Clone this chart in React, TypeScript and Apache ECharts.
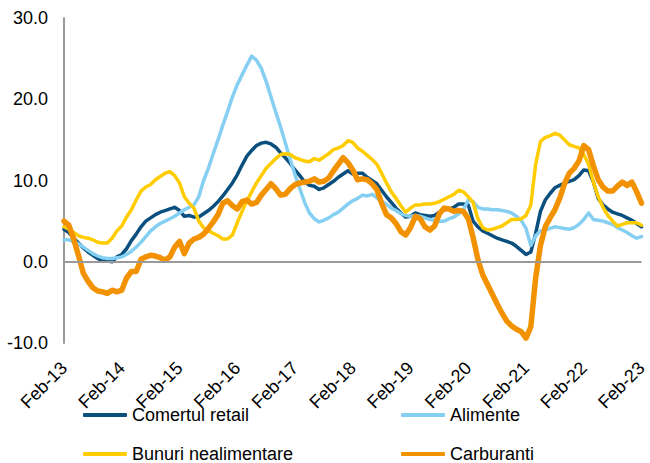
import React, { useEffect, useRef } from "react";
import * as echarts from "echarts";

const MONTHS = ["Jan", "Feb", "Mar", "Apr", "May", "Jun", "Jul", "Aug", "Sep", "Oct", "Nov", "Dec"];
// Monthly categories Feb-13 .. Feb-23
const categories: string[] = [];
for (let y = 13; y <= 23; y++) {
  for (let m = 0; m < 12; m++) {
    if (y === 13 && m < 1) continue;
    if (y === 23 && m > 1) continue;
    categories.push(`${MONTHS[m]}-${y}`);
  }
}

const yTicks = [-10, 0, 10, 20, 30];

const comertulRetail = [
  4.0, 3.6, 2.9, 2.3, 1.7, 1.2, 0.8, 0.4, 0.1, 0.1, 0.0, 0.6,
  0.9, 1.6, 2.6, 3.4, 4.3, 5.0, 5.4, 5.8, 6.1, 6.3, 6.5, 6.7,
  6.3, 5.6, 5.7, 5.5, 5.5, 5.9, 6.3, 6.8, 7.4, 8.1, 8.9, 9.7,
  10.7, 11.9, 13.0, 13.7, 14.3, 14.6, 14.7, 14.5, 14.1, 13.4, 12.8, 12.1,
  11.3, 10.6, 9.8, 9.4, 9.3, 8.9, 9.1, 9.5, 9.9, 10.4, 10.8, 11.2,
  10.8, 10.9, 10.9, 10.4, 10.0, 9.6, 8.8, 8.0, 7.3, 6.6, 6.0, 5.5,
  5.6, 6.0, 5.8, 5.7, 5.6, 5.7, 6.1, 6.4, 6.5, 6.7, 7.1, 7.1,
  7.0, 5.0, 4.3, 3.8, 3.5, 3.2, 2.9, 2.7, 2.5, 2.3, 1.9, 1.4,
  0.9, 1.2, 3.5, 6.2, 7.6, 8.4, 9.1, 9.4, 9.7, 9.9, 10.1, 10.6,
  11.3, 11.2, 9.8, 7.8, 7.0, 6.5, 6.1, 5.9, 5.7, 5.4, 5.1, 4.7,
  4.3,
];

const alimente = [
  2.7, 2.7, 2.5, 2.2, 1.8, 1.4, 1.0, 0.7, 0.5, 0.4, 0.4, 0.5,
  0.6, 0.9, 1.3, 1.8, 2.4, 3.1, 3.8, 4.3, 4.7, 5.0, 5.3, 5.6,
  6.0, 6.4, 6.7, 7.0, 8.0, 10.0, 11.5, 13.3, 15.0, 16.8, 18.5, 20.3,
  21.8, 23.0, 24.2, 25.3, 24.8, 23.8, 22.2, 20.3, 18.4, 16.6, 14.6, 12.6,
  10.7, 9.0, 7.3, 6.0, 5.3, 4.9, 5.1, 5.4, 5.8, 6.1, 6.6, 7.1,
  7.5, 7.8, 8.2, 8.1, 8.3, 7.9, 7.4, 7.1, 6.6, 6.3, 5.9, 5.7,
  5.6, 5.7, 5.6, 5.4, 5.2, 5.1, 5.0, 5.0, 5.3, 5.5, 5.9, 6.4,
  7.6, 7.4, 6.7, 6.5, 6.5, 6.4, 6.4, 6.3, 6.2, 6.0, 5.6, 5.1,
  4.1, 2.0, 3.2, 3.8, 3.9, 4.1, 4.3, 4.2, 4.1, 4.0, 4.2, 4.6,
  5.2, 6.0, 5.2, 5.1, 5.0, 4.8, 4.6, 4.2, 3.9, 3.6, 3.2, 2.9,
  3.1,
];

const bunuriNealimentare = [
  4.3, 4.0, 3.6, 3.2, 3.0, 2.9, 2.7, 2.4, 2.3, 2.3, 2.9, 3.8,
  4.4, 5.5, 6.4, 7.6, 8.7, 9.2, 9.5, 10.1, 10.5, 10.9, 11.1, 10.6,
  9.7, 8.0, 7.2, 6.6, 5.0, 4.2, 3.8, 3.5, 3.2, 2.8, 2.8, 3.3,
  4.8, 6.2, 7.5, 8.6, 9.7, 10.6, 11.5, 12.1, 12.7, 13.2, 13.3, 13.2,
  12.8, 12.6, 12.4, 12.3, 12.7, 12.5, 12.9, 13.3, 13.8, 14.0, 14.3, 14.9,
  14.7, 14.0, 13.6, 13.1, 12.6, 12.0, 10.9, 9.7, 8.6, 7.8, 6.9, 6.1,
  6.6, 7.0, 7.0, 7.1, 7.1, 7.2, 7.4, 7.7, 8.0, 8.3, 8.8, 8.6,
  8.0, 7.3, 5.3, 4.2, 3.9, 4.0, 4.2, 4.4, 4.8, 5.2, 5.2, 5.3,
  5.7, 7.0, 12.0, 14.8, 15.3, 15.5, 15.8, 15.6, 15.0, 14.4, 14.2, 14.0,
  13.2, 12.0, 9.8, 8.0, 6.7, 5.7, 5.0, 4.4, 4.6, 4.8, 4.8, 4.8,
  4.5,
];

const carburanti = [
  5.0, 4.5, 2.8, 0.8, -1.4, -2.4, -3.2, -3.6, -3.7, -3.9, -3.5, -3.7,
  -3.5, -2.0, -1.2, -1.2, 0.3, 0.6, 0.8, 0.7, 0.5, 0.2, 0.6, 1.8,
  2.5, 1.0, 2.3, 2.8, 3.0, 3.4, 4.1, 4.9, 5.8, 7.2, 7.5, 6.9,
  6.5, 7.4, 7.6, 7.1, 7.3, 8.2, 8.9, 9.6, 9.0, 8.2, 8.3, 9.0,
  9.5, 9.7, 9.8, 9.9, 10.2, 9.8, 9.9, 10.3, 11.2, 12.0, 12.8, 12.2,
  11.3, 10.1, 10.2, 10.1, 9.6, 8.9, 7.2, 5.8, 5.4, 4.7, 3.7, 3.3,
  4.2, 5.6, 5.3, 4.3, 3.9, 4.4, 5.9, 6.6, 6.5, 6.2, 6.3, 6.2,
  5.3, 3.0, 0.3, -1.6, -2.8, -4.0, -5.2, -6.3, -7.3, -7.9, -8.3, -8.6,
  -9.4, -8.0, -2.0, 2.0, 4.3, 5.4, 6.4, 7.8, 9.6, 10.9, 11.5, 12.4,
  14.3, 13.8, 11.8, 10.1, 9.2, 8.7, 8.7, 9.3, 9.8, 9.4, 9.8, 8.6,
  7.2,
];

const COLORS = {
  retail: "#0A4F7D",
  alimente: "#85CFF2",
  bunuri: "#FFCC00",
  carburanti: "#F39200",
};

const FONT = "'Liberation Sans', Arial, sans-serif";

const legendItem = (name: string, left: number, top: number) => ({
  data: [name],
  orient: "horizontal",
  left,
  top,
  itemWidth: 44,
  itemHeight: 4,
  itemGap: 0,
  padding: 0,
  icon: "roundRect",
  textStyle: { fontSize: 18, color: "#000", fontFamily: FONT },
});

export default function App() {
  const ref = useRef<HTMLDivElement>(null);

  useEffect(() => {
    if (!ref.current) return;
    const chart = echarts.init(ref.current, undefined, { renderer: "svg" });
    const mkSeries = (name: string, data: number[], color: string, width: number, extra: any = {}) => ({
      name,
      type: "line",
      data,
      symbol: "none",
      smooth: false,
      lineStyle: { color, width, cap: "round", join: "round" },
      itemStyle: { color },
      ...extra,
    });
    chart.setOption({
      animation: false,
      textStyle: { fontFamily: FONT },
      grid: { left: 64, right: 2, top: 18, bottom: 120, containLabel: false },
      xAxis: {
        type: "category",
        data: categories,
        boundaryGap: false,
        axisLine: { show: false, onZero: false },
        axisTick: { show: false },
        splitLine: { show: false },
        axisLabel: {
          interval: 11,
          rotate: 45,
          margin: 22,
          fontSize: 18,
          color: "#000",
          fontFamily: FONT,
        },
      },
      yAxis: {
        type: "value",
        min: yTicks[0],
        max: yTicks[yTicks.length - 1],
        interval: 10,
        axisLine: { show: true, lineStyle: { color: "#9A9A9A", width: 2 } },
        axisTick: { show: false },
        splitLine: { show: false },
        axisLabel: {
          margin: 16,
          fontSize: 18,
          color: "#000",
          fontFamily: FONT,
          formatter: (v: number) => v.toFixed(1),
        },
      },
      legend: [
        legendItem("Comertul retail", 83, 406),
        legendItem("Bunuri nealimentare", 83, 445),
        legendItem("Alimente", 401, 406),
        legendItem("Carburanti", 401, 445),
      ],
      series: [
        mkSeries("Comertul retail", comertulRetail, COLORS.retail, 3.5, {
          markLine: {
            silent: true,
            symbol: ["none", "none"],
            label: { show: false },
            lineStyle: { color: "#9A9A9A", width: 2, type: "solid" },
            data: [{ yAxis: 0 }],
          },
        }),
        mkSeries("Alimente", alimente, COLORS.alimente, 3.5),
        mkSeries("Bunuri nealimentare", bunuriNealimentare, COLORS.bunuri, 3.5),
        mkSeries("Carburanti", carburanti, COLORS.carburanti, 5.5),
      ],
    });
    return () => chart.dispose();
  }, []);

  return (
    <div
      ref={ref}
      style={{ position: "fixed", left: 0, top: 0, width: 650, height: 463, background: "#fff" }}
    />
  );
}
